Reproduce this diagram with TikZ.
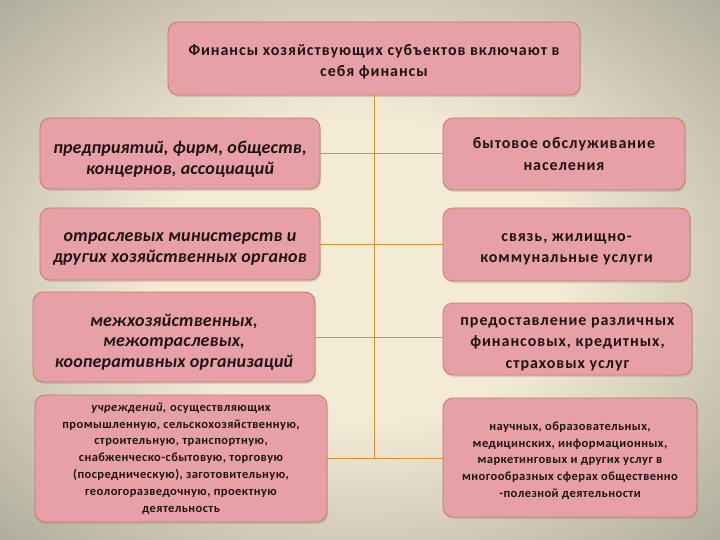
\documentclass[tikz,border=0pt]{standalone}
\usepackage{fontspec}
\setmainfont{Carlito}
\usetikzlibrary{shadows}
\definecolor{bgcream}{HTML}{F3EBD6}
\definecolor{bgedge}{HTML}{9C9A8A}
\definecolor{boxfill}{HTML}{E8A0A8}
\definecolor{boxline}{HTML}{C47E58}
\definecolor{conn}{HTML}{DA9232}
\definecolor{txt}{HTML}{1E1414}
\pgfdeclareradialshading{bgshade}{\pgfpoint{0bp}{0bp}}{color(0bp)=(bgcream); color(14bp)=(bgcream); color(42bp)=(bgedge); color(100bp)=(bgedge)}
\tikzset{
  box/.style={draw=boxline, line width=0.8pt, fill=boxfill, rounded corners=10pt,
    inner sep=0pt,
    drop shadow={opacity=0.25, shadow xshift=1pt, shadow yshift=-2pt}},
  label text/.style={align=center, text=txt, inner sep=0pt},
  topfont/.style={label text, font=\fontsize{16}{21}\selectfont\bfseries\addfontfeature{LetterSpace=6}},
  leftfont/.style={label text, font=\fontsize{18}{20.5}\selectfont\bfseries\itshape\addfontfeature{LetterSpace=1}},
  rightfont/.style={label text, font=\fontsize{16}{21.5}\selectfont\bfseries\addfontfeature{LetterSpace=6}},
  smallfont/.style={label text, font=\fontsize{12.5}{16.8}\selectfont\bfseries\addfontfeature{LetterSpace=3.5}},
  connector/.style={draw=conn, line width=0.9pt}
}
\begin{document}
\begin{tikzpicture}[x=1pt,y=-1pt]
\useasboundingbox (0,0) rectangle (720,540);
\shade[shading=bgshade] (0,0) rectangle (720,540);

% boxes
\node[box, minimum width=412pt, minimum height=73pt] (top) at (374,58.5) {};
\node[box, minimum width=280pt, minimum height=71pt] (l1) at (180,153.5) {};
\node[box, minimum width=280pt, minimum height=72pt] (l2) at (180,244) {};
\node[box, minimum width=282pt, minimum height=90pt] (l3) at (174,337) {};
\node[box, minimum width=292pt, minimum height=127pt] (l4) at (181,458.5) {};
\node[box, minimum width=242pt, minimum height=72pt] (r1) at (564,154) {};
\node[box, minimum width=247pt, minimum height=73pt] (r2) at (566.5,244.5) {};
\node[box, minimum width=249pt, minimum height=72pt] (r3) at (567.5,339) {};
\node[box, minimum width=254pt, minimum height=119pt] (r4) at (570,457.5) {};

% texts
\node[topfont] (topt) at ([yshift=-3pt]top.center)
  {Финансы хозяйствующих субъектов включают в\\себя финансы};
\node[leftfont] (l1t) at ([yshift=-6pt]l1.center)
  {предприятий, фирм, обществ,\\концернов, ассоциаций};
\node[leftfont] (l2t) at ([yshift=-5pt]l2.center)
  {отраслевых министерств и\\других хозяйственных органов};
\node[leftfont] (l3t) at ([yshift=-5pt]l3.center)
  {межхозяйственных,\\межотраслевых,\\кооперативных организаций};
\node[smallfont] (l4t) at ([yshift=0pt]l4.center)
  {\textit{учреждений,} осуществляющих\\промышленную, сельскохозяйственную,\\строительную, транспортную,\\снабженческо-сбытовую, торговую\\(посредническую), заготовительную,\\геологоразведочную, проектную\\деятельность};
\node[rightfont] (r1t) at ([yshift=0pt]r1.center)
  {бытовое обслуживание\\населения};
\node[rightfont] (r2t) at ([yshift=-5pt]r2.center)
  {связь, жилищно-\\коммунальные услуги};
\node[rightfont] (r3t) at ([yshift=-5pt]r3.center)
  {предоставление различных\\финансовых, кредитных,\\страховых услуг};
\node[smallfont] (r4t) at ([yshift=-3pt]r4.center)
  {научных, образовательных,\\медицинских, информационных,\\маркетинговых и других услуг в\\многообразных сферах общественно\\-полезной деятельности};

% connectors
\coordinate (vend) at (top.south |- l4.east);
\draw[connector] (top.south) -- (vend);
\draw[connector] (l1.east) -- (l1.east -| r1.west);
\draw[connector] (l2.east) -- (l2.east -| r2.west);
\draw[connector] (l3.east) -- (l3.east -| r3.west);
\draw[connector] (l4.east) -- (l4.east -| r4.west);
\end{tikzpicture}
\end{document}
